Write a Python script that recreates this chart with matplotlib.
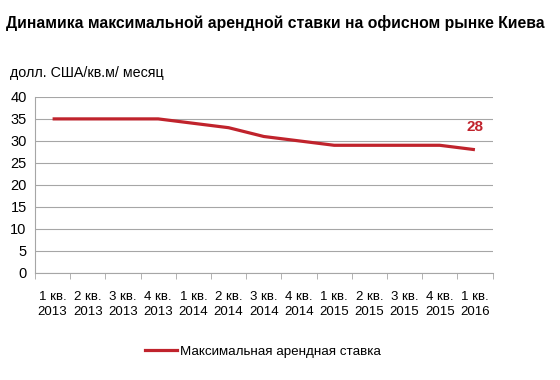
import matplotlib
matplotlib.use("Agg")
import matplotlib.pyplot as plt
from matplotlib.lines import Line2D

categories = ["1 кв.\n2013", "2 кв.\n2013", "3 кв.\n2013", "4 кв.\n2013",
              "1 кв.\n2014", "2 кв.\n2014", "3 кв.\n2014", "4 кв.\n2014",
              "1 кв.\n2015", "2 кв.\n2015", "3 кв.\n2015", "4 кв.\n2015",
              "1 кв.\n2016"]
values = [35, 35, 35, 35, 34, 33, 31, 30, 29, 29, 29, 29, 28]
yticks = [0, 5, 10, 15, 20, 25, 30, 35, 40]
series_name = "Максимальная арендная ставка"
title = "Динамика максимальной арендной ставки на офисном рынке Киева"
ylabel = "долл. США/кв.м/ месяц"

plt.rcParams['font.family'] = ['Liberation Sans', 'DejaVu Sans']
red = "#C0232C"

fig = plt.figure(figsize=(5.6, 3.8), dpi=100)
ax = fig.add_axes([0.0625, 0.282, 0.817, 0.463])

x = list(range(len(values)))
ax.plot(x, values, color=red, lw=2.3, solid_capstyle='butt')
ax.set_xlim(-0.5, len(values) - 0.5)
ax.set_ylim(0, 40)
ax.set_yticks(yticks)
ax.set_yticklabels([str(v) for v in yticks], fontsize=10.5)
ax.yaxis.grid(True, color="#A6A6A6", lw=0.8)
ax.set_axisbelow(True)
ax.tick_params(axis='y', length=0, pad=6)

ax.set_xticks(x)
ax.set_xticklabels(categories, fontsize=9.5, linespacing=1.4)
ax.set_xticks([i - 0.5 for i in range(len(values) + 1)], minor=True)
ax.tick_params(axis='x', which='major', length=0, pad=13)
ax.tick_params(axis='x', which='minor', length=4, color="#A6A6A6", direction='out')

for s in ["top", "right"]:
    ax.spines[s].set_visible(False)
ax.spines["left"].set_color("#A6A6A6")
ax.spines["bottom"].set_color("#A6A6A6")

ax.annotate(str(values[-1]), (x[-1], values[-1]), xytext=(0, 11), textcoords='offset points',
            ha='center', va='bottom', color=red, fontsize=11, fontweight='bold')

fig.text(0.01, 0.94, title, fontsize=11.3, fontweight='bold', ha='left', va='center')
fig.text(0.018, 0.808, ylabel, fontsize=10.3, ha='left', va='center')

handle = Line2D([], [], color=red, lw=2.3)
fig.legend([handle], [series_name], loc='center', bbox_to_anchor=(0.47, 0.075),
           frameon=False, fontsize=9.6, handlelength=2.4, handletextpad=0.2)

fig.savefig("out.png", dpi=100)
